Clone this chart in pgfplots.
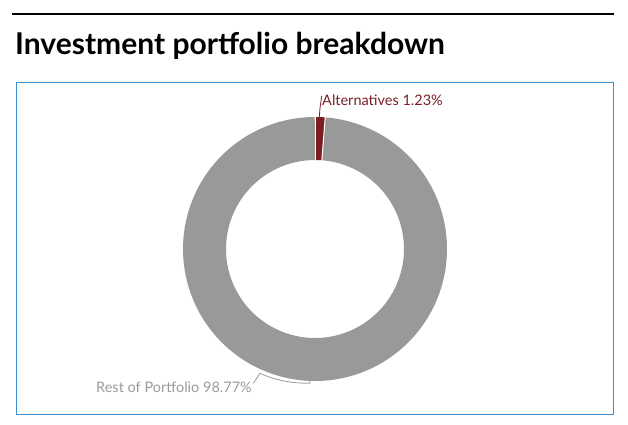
\documentclass[border=0pt]{standalone}
\usepackage{fontspec}
\setmainfont{Lato}
\usepackage{pgfplots}
\usepackage{pgfplotstable}
\pgfplotsset{compat=1.18}
\definecolor{altred}{HTML}{7B1E24}
\definecolor{restgray}{HTML}{999999}
\definecolor{labgray}{HTML}{9A9A9A}
\definecolor{boxblue}{HTML}{3A8FCF}
\pgfplotstableread{
label value
Alternatives 1.23
Rest 98.77
}\datatable
\pgfplotstablegetelem{0}{value}\of\datatable \let\vA\pgfplotsretval
\pgfplotstablegetelem{1}{value}\of\datatable \let\vB\pgfplotsretval
\pgfmathsetmacro{\aStart}{90}
\pgfmathsetmacro{\aMid}{90-3.6*\vA}
\pgfmathsetmacro{\aEnd}{\aMid-3.6*\vB}
\begin{document}%
\begin{tikzpicture}
\begin{axis}[x=1pt,y=1pt,xmin=-315,xmax=313,ymin=-175,ymax=249,
  hide axis,clip=false,at={(0,0)},anchor=south west]
% rule and title
\draw[black,line width=2.5pt] (axis cs:-303,235) -- (axis cs:299,235);
\node[anchor=base west,inner sep=0,font=\fontsize{30}{35}\selectfont\bfseries] at (axis cs:-300,194) {Investment portfolio breakdown};
% frame
\draw[boxblue,line width=1pt] (axis cs:-299,166) rectangle (axis cs:298,-165);
% donut
\addplot[domain=\aMid:\aStart,samples=20,line width=43pt,altred,no markers] ({110.5*cos(x)},{110.5*sin(x)});
\addplot[domain=\aEnd:\aMid,samples=240,line width=43pt,restgray,no markers] ({110.5*cos(x)},{110.5*sin(x)});
\addplot[domain=88:134,samples=2,white,line width=1pt,no markers] ({x*cos(\aStart)},{x*sin(\aStart)});
\addplot[domain=88:134,samples=2,white,line width=1pt,no markers] ({x*cos(\aMid)},{x*sin(\aMid)});
% labels
\draw[altred,line width=0.8pt] (axis cs:4.3,132) -- (axis cs:5,141) -- (axis cs:6.7,153);
\node[anchor=base west,inner sep=0,text=altred,font=\fontsize{14.5}{17}\selectfont] at (axis cs:7,143) {Alternatives 1.23\%};
\draw[labgray,line width=0.8pt] (axis cs:-61.7,-134.3) -- (axis cs:-55,-124.3) .. controls (axis cs:-40,-131) and (axis cs:-25,-134.3) .. (axis cs:-5,-134.3) -- (axis cs:-5,-131);
\node[anchor=base east,inner sep=0,text=labgray,font=\fontsize{14.5}{17}\selectfont] at (axis cs:-63,-143) {Rest of Portfolio 98.77\%};
\end{axis}
\pgfresetboundingbox
\path[use as bounding box] (0,0) rectangle (628pt,424pt);
\end{tikzpicture}%
\end{document}
